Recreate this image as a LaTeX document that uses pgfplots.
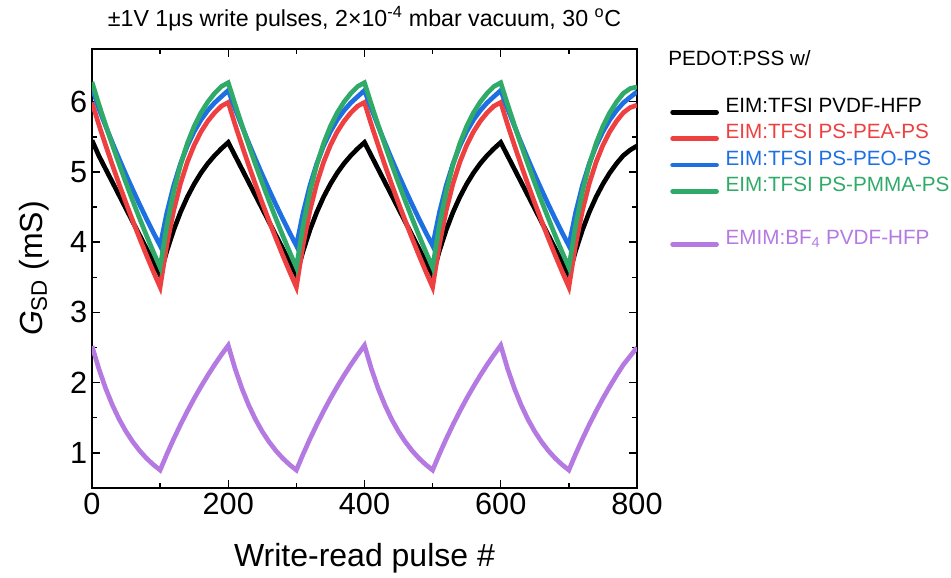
\documentclass[border=0pt]{standalone}
\usepackage{fontspec}
\setmainfont{Liberation Sans}
\usepackage{pgfplots}
\usepackage{pgfplotstable}
\pgfplotsset{compat=1.18}
\definecolor{cblack}{RGB}{0,0,0}
\definecolor{cred}{RGB}{238,64,64}
\definecolor{cblue}{RGB}{30,112,226}
\definecolor{cgreen}{RGB}{48,170,104}
\definecolor{cpurple}{RGB}{180,122,226}

\pgfplotstableread{
x black red blue green purple
0 5.45 5.99 6.20 6.28 2.52
10 5.231 5.675 5.903 5.964 2.200
20 5.042 5.380 5.654 5.668 1.919
30 4.853 5.096 5.414 5.382 1.680
40 4.664 4.821 5.182 5.106 1.476
50 4.475 4.556 4.958 4.840 1.303
60 4.286 4.300 4.743 4.583 1.156
70 4.097 4.052 4.534 4.335 1.030
80 3.908 3.813 4.332 4.095 0.923
90 3.719 3.582 4.138 3.863 0.832
100 3.53 3.36 3.95 3.64 0.755
110 3.878 3.970 4.424 4.242 0.984
120 4.175 4.453 4.808 4.721 1.200
130 4.428 4.837 5.119 5.103 1.403
140 4.644 5.140 5.371 5.407 1.594
150 4.828 5.381 5.575 5.650 1.775
160 4.986 5.572 5.741 5.843 1.944
170 5.120 5.723 5.875 5.997 2.104
180 5.234 5.843 5.984 6.120 2.255
190 5.332 5.937 6.073 6.217 2.397
200 5.42 5.99 6.16 6.27 2.53
210 5.231 5.675 5.903 5.964 2.200
220 5.042 5.380 5.654 5.668 1.919
230 4.853 5.096 5.414 5.382 1.680
240 4.664 4.821 5.182 5.106 1.476
250 4.475 4.556 4.958 4.840 1.303
260 4.286 4.300 4.743 4.583 1.156
270 4.097 4.052 4.534 4.335 1.030
280 3.908 3.813 4.332 4.095 0.923
290 3.719 3.582 4.138 3.863 0.832
300 3.53 3.36 3.95 3.64 0.755
310 3.878 3.970 4.424 4.242 0.984
320 4.175 4.453 4.808 4.721 1.200
330 4.428 4.837 5.119 5.103 1.403
340 4.644 5.140 5.371 5.407 1.594
350 4.828 5.381 5.575 5.650 1.775
360 4.986 5.572 5.741 5.843 1.944
370 5.120 5.723 5.875 5.997 2.104
380 5.234 5.843 5.984 6.120 2.255
390 5.332 5.937 6.073 6.217 2.397
400 5.42 5.99 6.16 6.27 2.53
410 5.231 5.675 5.903 5.964 2.200
420 5.042 5.380 5.654 5.668 1.919
430 4.853 5.096 5.414 5.382 1.680
440 4.664 4.821 5.182 5.106 1.476
450 4.475 4.556 4.958 4.840 1.303
460 4.286 4.300 4.743 4.583 1.156
470 4.097 4.052 4.534 4.335 1.030
480 3.908 3.813 4.332 4.095 0.923
490 3.719 3.582 4.138 3.863 0.832
500 3.53 3.36 3.95 3.64 0.755
510 3.878 3.970 4.424 4.242 0.984
520 4.175 4.453 4.808 4.721 1.200
530 4.428 4.837 5.119 5.103 1.403
540 4.644 5.140 5.371 5.407 1.594
550 4.828 5.381 5.575 5.650 1.775
560 4.986 5.572 5.741 5.843 1.944
570 5.120 5.723 5.875 5.997 2.104
580 5.234 5.843 5.984 6.120 2.255
590 5.332 5.937 6.073 6.217 2.397
600 5.42 5.99 6.16 6.27 2.53
610 5.231 5.675 5.903 5.964 2.200
620 5.042 5.380 5.654 5.668 1.919
630 4.853 5.096 5.414 5.382 1.680
640 4.664 4.821 5.182 5.106 1.476
650 4.475 4.556 4.958 4.840 1.303
660 4.286 4.300 4.743 4.583 1.156
670 4.097 4.052 4.534 4.335 1.030
680 3.908 3.813 4.332 4.095 0.923
690 3.719 3.582 4.138 3.863 0.832
700 3.53 3.36 3.95 3.64 0.755
710 3.878 3.970 4.424 4.242 0.984
720 4.175 4.453 4.808 4.721 1.200
730 4.428 4.837 5.119 5.103 1.403
740 4.644 5.140 5.371 5.407 1.594
750 4.828 5.381 5.575 5.650 1.775
760 4.986 5.572 5.741 5.843 1.944
770 5.120 5.723 5.875 5.997 2.104
780 5.234 5.843 5.984 6.120 2.255
790 5.312 5.917 6.063 6.187 2.377
800 5.37 5.95 6.14 6.21 2.50
}\data

\begin{document}
\begin{tikzpicture}
\path[use as bounding box] (-69pt,-67.5pt) rectangle (644.25pt,366pt);
\begin{axis}[
  at={(0pt,0pt)}, anchor=south west,
  scale only axis, width=408.75pt, height=329.25pt,
  xmin=0, xmax=800, ymin=0.5, ymax=6.75,
  xtick={0,200,400,600,800}, ytick={1,2,3,4,5,6},
  minor x tick num=1, minor y tick num=1,
  tick align=inside, major tick length=6pt, minor tick length=3.5pt,
  axis line style={line width=1.1pt},
  every tick/.style={line width=1.1pt, black},
  /pgf/number format/assume math mode=true,
  ticklabel style={font=\fontsize{23}{26}\selectfont},
  xlabel={Write-read pulse \#},
  ylabel={\textit{G}\textsubscript{SD} (mS)},
  label style={font=\fontsize{24}{28}\selectfont},
  xlabel style={at={(axis description cs:0.5,-0.178)}, anchor=base},
  ylabel style={at={(axis description cs:-0.0917,0.5)}, anchor=base},
  title={±1V 1μs write pulses, 2×10\textsuperscript{-4} mbar vacuum, 30 \textsuperscript{o}C},
  title style={font=\fontsize{17.4}{20}\selectfont, at={(axis description cs:0.5,1.034)}, anchor=base},
  legend image code/.code={\draw[line cap=round] (0pt,0pt) -- (33pt,0pt);},
  legend style={draw=none, fill=none, inner sep=0pt,
    at={(axis description cs:1,1)}, anchor=north west, xshift=24.75pt, yshift=-36.25pt,
    font=\fontsize{15.5}{18}\selectfont,
    nodes={inner sep=0pt, text height=11pt, text depth=3pt, anchor=base west},
    row sep=5.8pt,
    /tikz/every odd column/.append style={column sep=5pt}},
  legend cell align=left,
]
\addplot[cblack, line width=3.5pt, forget plot] table[x=x, y=black] {\data};
\addplot[cred, line width=3.5pt, forget plot] table[x=x, y=red] {\data};
\addplot[cblue, line width=3.5pt, forget plot] table[x=x, y=blue] {\data};
\addplot[cgreen, line width=3.5pt, forget plot] table[x=x, y=green] {\data};
\addplot[cpurple, line width=3.5pt, forget plot] table[x=x, y=purple] {\data};
\addlegendimage{cblack, line width=3.5pt}
\addlegendentry[text=cblack]{EIM:TFSI PVDF-HFP}
\addlegendimage{cred, line width=3.5pt}
\addlegendentry[text=cred]{EIM:TFSI PS-PEA-PS}
\addlegendimage{cblue, line width=3.5pt}
\addlegendentry[text=cblue]{EIM:TFSI PS-PEO-PS}
\addlegendimage{cgreen, line width=3.5pt}
\addlegendentry[text=cgreen]{EIM:TFSI PS-PMMA-PS}
\addlegendimage{empty legend}
\addlegendentry{}
\addlegendimage{cpurple, line width=3.5pt}
\addlegendentry[text=cpurple]{EMIM:BF\textsubscript{4} PVDF-HFP}
\end{axis}
\node[anchor=base west, font=\fontsize{15.5}{18}\selectfont, inner sep=0pt] at (432pt,316.5pt) {PEDOT:PSS w/};
\end{tikzpicture}
\end{document}
